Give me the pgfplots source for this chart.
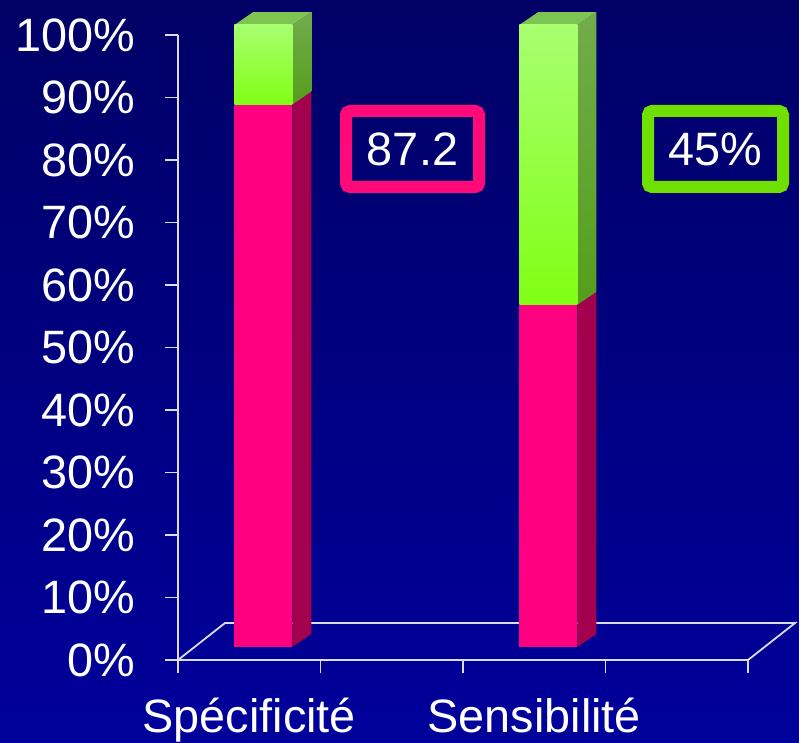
\documentclass[border=0pt]{standalone}
\usepackage{fontspec}
\setmainfont{Liberation Sans}
\usepackage{pgfplots}
\pgfplotsset{compat=1.18}
\definecolor{bgtop}{HTML}{000066}
\definecolor{bgbot}{HTML}{00009C}
\definecolor{mag}{HTML}{FF0080}
\definecolor{magside}{HTML}{A3004E}
\definecolor{grntop}{HTML}{A8FF70}
\definecolor{grnbot}{HTML}{80FF14}
\definecolor{grnsidetop}{HTML}{72AC4C}
\definecolor{grnsidebot}{HTML}{559E1C}
\definecolor{grnlid}{HTML}{7EC452}
\definecolor{axline}{HTML}{DCDCF0}
\definecolor{boxmag}{HTML}{FF0A78}
\definecolor{boxgrn}{HTML}{70E000}
\newcommand{\bigfont}{\fontsize{47}{51}\selectfont}
\pgfplotsset{
  baraxis/.style={at={(192bp,96bp)}, anchor=south west, scale only axis,
    width=570bp, height=622bp, xmin=0, xmax=4, ymin=0, ymax=100,
    hide axis, clip=false},
}
\begin{document}
\begin{tikzpicture}[x=1bp,y=1bp]
\useasboundingbox (0,0) rectangle (799,743);
\shade[top color=bgtop, bottom color=bgbot] (0,0) rectangle (799,743);
\begin{axis}[
  at={(178bp,83bp)}, anchor=south west, scale only axis,
  width=570bp, height=625bp,
  xmin=0, xmax=4, ymin=0, ymax=100,
  axis lines*=left,
  axis line style={axline, line width=1.8bp},
  clip=false,
  xtick={0,1,2,3,4}, xticklabels={,,,,},
  ytick={0,10,...,100},
  yticklabels={0\%,10\%,20\%,30\%,40\%,50\%,60\%,70\%,80\%,90\%,100\%},
  tick style={axline, line width=1.8bp},
  tick align=outside, major tick length=13bp,
  yticklabel style={font=\bigfont, text=white, anchor=east, inner sep=0pt, xshift=-30bp},
  extra x ticks={0.5,2.5},
  extra x tick labels={Spécificité,Sensibilité},
  extra x tick style={tick style={draw=none}, major tick length=0pt,
    xticklabel style={font=\bigfont, text=white, anchor=base, inner sep=0pt, yshift=-72bp}},
]
\addplot[axline, line width=1.8bp] coordinates {(0,0) (0.33,5.92) (4.33,5.92) (4,0)};
\end{axis}
% side and top faces
\begin{axis}[baraxis]
\addplot[draw=none, fill=magside] coordinates {(0.7035,0) (0.8368,2.08) (0.8368,89.28) (0.7035,87.2)} -- cycle;
\addplot[draw=none, top color=grnsidetop, bottom color=grnsidebot] coordinates {(0.7035,87.2) (0.8368,89.28) (0.8368,102.08) (0.7035,100)} -- cycle;
\addplot[draw=none, fill=grnlid] coordinates {(0.2965,100) (0.4298,102.08) (0.8368,102.08) (0.7035,100)} -- cycle;
\addplot[draw=none, fill=magside] coordinates {(2.7035,0) (2.8368,2.08) (2.8368,57.08) (2.7035,55)} -- cycle;
\addplot[draw=none, top color=grnsidetop, bottom color=grnsidebot] coordinates {(2.7035,55) (2.8368,57.08) (2.8368,102.08) (2.7035,100)} -- cycle;
\addplot[draw=none, fill=grnlid] coordinates {(2.2965,100) (2.4298,102.08) (2.8368,102.08) (2.7035,100)} -- cycle;
\end{axis}
% front faces: Spécificité
\begin{axis}[baraxis, ybar stacked, bar width=58bp]
\addplot[draw=none, fill=mag] coordinates {(0.5,87.2)};
\addplot[draw=none, top color=grntop, bottom color=grnbot] coordinates {(0.5,12.8)};
\end{axis}
% front faces: Sensibilité
\begin{axis}[baraxis, ybar stacked, bar width=58bp]
\addplot[draw=none, fill=mag] coordinates {(2.5,55)};
\addplot[draw=none, top color=grntop, bottom color=grnbot] coordinates {(2.5,45)};
\end{axis}
\node[draw=boxmag, line width=12bp, rounded corners=4bp, minimum width=133bp,
  minimum height=76bp, text=white, font=\bigfont, inner sep=0pt] at (412.5,594) {87.2};
\node[draw=boxgrn, line width=12bp, rounded corners=4bp, minimum width=135bp,
  minimum height=76bp, text=white, font=\bigfont, inner sep=0pt] at (715.5,594) {45\%};
\end{tikzpicture}
\end{document}
